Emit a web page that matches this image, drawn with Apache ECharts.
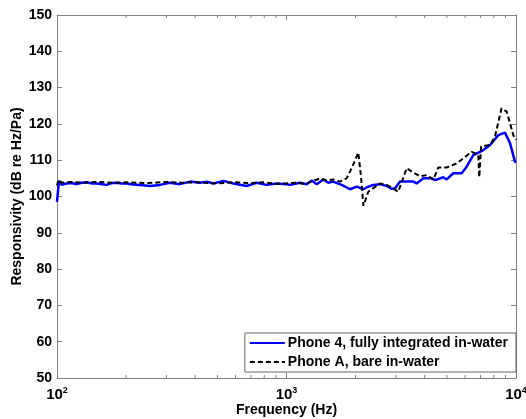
<!DOCTYPE html>
<html>
<head>
<meta charset="utf-8">
<script src="https://cdn.jsdelivr.net/npm/echarts@6/dist/echarts.min.js"></script>
<style>
  html, body { margin: 0; padding: 0; background: #fff; }
  #mychart { width: 526px; height: 419px; }
</style>
</head>
<body>
<div id="mychart"></div>
<script>
// Phone 4 (blue, solid)
const freqBlue = [100, 102, 104.8, 110, 116, 122, 128, 135, 142, 149, 157, 165, 173, 182, 191, 201, 214, 230, 254, 281,
  310, 343, 380, 420, 449, 480, 531, 587, 670, 741, 819, 906, 1001, 1038, 1144, 1224, 1289, 1354, 1446, 1521,
  1595, 1740, 1892, 2024, 2163, 2271, 2390, 2553, 2735, 2870, 2972, 3124, 3570, 3690, 3948, 4295, 4439, 4822, 4989, 5330,
  5798, 6095, 6512, 6966, 7206, 7711, 8372, 8951, 9418, 9895, 10000];
const dbBlue = [98.5, 104.3, 103.2, 103.6, 103.7, 103.4, 103.8, 103.9, 103.6, 103.6, 103.4, 103.2, 103.7, 103.8, 103.6, 103.6, 103.3, 103.2, 102.9, 103.2,
  103.8, 103.4, 104.1, 103.8, 104.1, 103.6, 104.3, 103.6, 102.9, 103.8, 103.2, 103.6, 103.4, 103.2, 103.8, 103.4, 104.4, 103.4, 104.7, 103.8,
  104.1, 103.2, 102.0, 102.7, 102.0, 102.7, 103.2, 103.4, 102.9, 102.1, 102.3, 104.1, 104.1, 103.6, 105.0, 105.0, 104.5, 105.3, 104.7, 106.4,
  106.4, 108.2, 111.4, 112.3, 112.8, 114.2, 116.9, 117.6, 114.7, 109.6, 109.3];

// Phone A (black, dashed)
const freqBlack = [100, 101.5, 105, 115, 130, 150, 175, 200, 250, 300, 350, 400, 500, 600, 700, 800, 900, 1000, 1100, 1200,
  1300, 1400, 1500, 1600, 1710, 1828, 1923, 2056, 2112, 2163, 2271, 2390, 2553, 2735, 2870, 3069, 3340, 3570, 3818, 4085,
  4365, 4588, 4989, 5512, 5891, 6408, 6629, 6850, 6917, 7050, 7711, 8098, 8650, 9106, 9736, 10000];
const dbBlack = [103.0, 104.6, 103.8, 104.0, 103.8, 104.0, 103.8, 103.9, 103.7, 104.0, 103.8, 103.9, 103.6, 103.9, 103.7, 103.9, 103.5, 103.6, 103.8, 103.5,
  104.2, 105.0, 104.4, 104.7, 104.1, 105.0, 107.8, 112.1, 105.5, 97.4, 101.3, 102.3, 103.6, 103.2, 102.5, 101.3, 107.8, 106.6, 105.6, 105.9,
  104.7, 108.0, 108.0, 109.1, 110.5, 112.3, 111.9, 111.5, 105.3, 113.8, 114.2, 116.5, 124.3, 123.4, 116.9, 115.6];

const minorTicks = [200, 300, 400, 500, 600, 700, 800, 900, 2000, 3000, 4000, 5000, 6000, 7000, 8000, 9000];
const yTicks = [50, 60, 70, 80, 90, 100, 110, 120, 130, 140, 150];

const nameBlue = 'Phone 4, fully integrated in-water';
const nameBlack = 'Phone A, bare in-water';

const font = 'Liberation Sans, Arial, sans-serif';
const axisGray = '#808080';

function zip(xs, ys) {
  return xs.map((x, i) => [x, ys[i]]);
}

let myChart = echarts.init(document.getElementById('mychart'));

let option = {
  backgroundColor: '#fff',
  animation: false,
  grid: { left: 57, right: 10, top: 15, bottom: 41, outerBoundsMode: 'none', containLabel: false },
  legend: {
    data: [nameBlue, nameBlack],
    orient: 'vertical',
    right: 10,
    bottom: 47,
    itemWidth: 35,
    itemHeight: 12,
    itemGap: 5,
    padding: [3, 8, 3, 4],
    borderColor: '#666',
    borderWidth: 1,
    backgroundColor: '#fff',
    itemStyle: { opacity: 0 },
    textStyle: { fontFamily: font, fontWeight: 'bold', fontSize: 14, color: '#000', padding: [0, 0, 0, -2] },
  },
  xAxis: [
    {
      type: 'log',
      logBase: 10,
      min: 100,
      max: 10000,
      name: 'Frequency (Hz)',
      nameLocation: 'middle',
      nameGap: 25,
      nameMoveOverlap: false,
      nameTextStyle: { fontFamily: font, fontWeight: 'bold', fontSize: 14, color: '#000' },
      axisLine: { lineStyle: { color: axisGray } },
      axisTick: { inside: true, length: 5, lineStyle: { color: axisGray } },
      splitLine: { show: false },
      axisLabel: {
        margin: 8,
        formatter: (v) => '{b|10}{s|' + Math.round(Math.log10(v)) + '}',
        rich: {
          b: { fontFamily: font, fontWeight: 'bold', fontSize: 15, color: '#000', lineHeight: 18 },
          s: { fontFamily: font, fontWeight: 'bold', fontSize: 9, color: '#000', verticalAlign: 'top', lineHeight: 18 },
        },
      },
    },
    {
      type: 'log',
      logBase: 10,
      min: 100,
      max: 10000,
      position: 'top',
      axisLine: { lineStyle: { color: axisGray } },
      axisTick: { inside: true, length: 5, lineStyle: { color: axisGray } },
      axisLabel: { show: false },
      splitLine: { show: false },
    },
  ],
  yAxis: [
    {
      type: 'value',
      min: yTicks[0],
      max: yTicks[yTicks.length - 1],
      interval: 10,
      name: 'Responsivity (dB re Hz/Pa)',
      nameLocation: 'middle',
      nameGap: 33,
      nameMoveOverlap: false,
      nameTextStyle: { fontFamily: font, fontWeight: 'bold', fontSize: 14, color: '#000' },
      axisLine: { show: true, lineStyle: { color: axisGray } },
      axisTick: { show: true, inside: true, length: 5, lineStyle: { color: axisGray } },
      splitLine: { show: false },
      axisLabel: { fontFamily: font, fontWeight: 'bold', fontSize: 14, color: '#000', margin: 5 },
    },
    {
      type: 'value',
      min: yTicks[0],
      max: yTicks[yTicks.length - 1],
      interval: 10,
      position: 'right',
      axisLine: { show: true, lineStyle: { color: axisGray } },
      axisTick: { show: true, inside: true, length: 5, lineStyle: { color: axisGray } },
      axisLabel: { show: false },
      splitLine: { show: false },
    },
  ],
  series: [
    {
      // minor ticks on the log axis, bottom and top
      type: 'custom',
      silent: true,
      data: minorTicks.map((v) => [v, yTicks[0]]),
      renderItem: function (params, api) {
        const v = api.value(0);
        const b = api.coord([v, yTicks[0]]);
        const t = api.coord([v, yTicks[yTicks.length - 1]]);
        const st = { stroke: axisGray, lineWidth: 1 };
        return {
          type: 'group',
          children: [
            { type: 'line', shape: { x1: b[0], y1: b[1], x2: b[0], y2: b[1] - 3 }, style: st },
            { type: 'line', shape: { x1: t[0], y1: t[1], x2: t[0], y2: t[1] + 3 }, style: st },
          ],
        };
      },
    },
    {
      name: nameBlue,
      type: 'line',
      symbol: 'none',
      data: zip(freqBlue, dbBlue),
      color: '#0000ff',
      lineStyle: { color: '#0000ff', width: 2.5 },
    },
    {
      name: nameBlack,
      type: 'line',
      symbol: 'none',
      data: zip(freqBlack, dbBlack),
      color: '#000',
      lineStyle: { color: '#000', width: 2, type: [5, 3] },
    },
  ],
};

myChart.setOption(option);
</script>
</body>
</html>
